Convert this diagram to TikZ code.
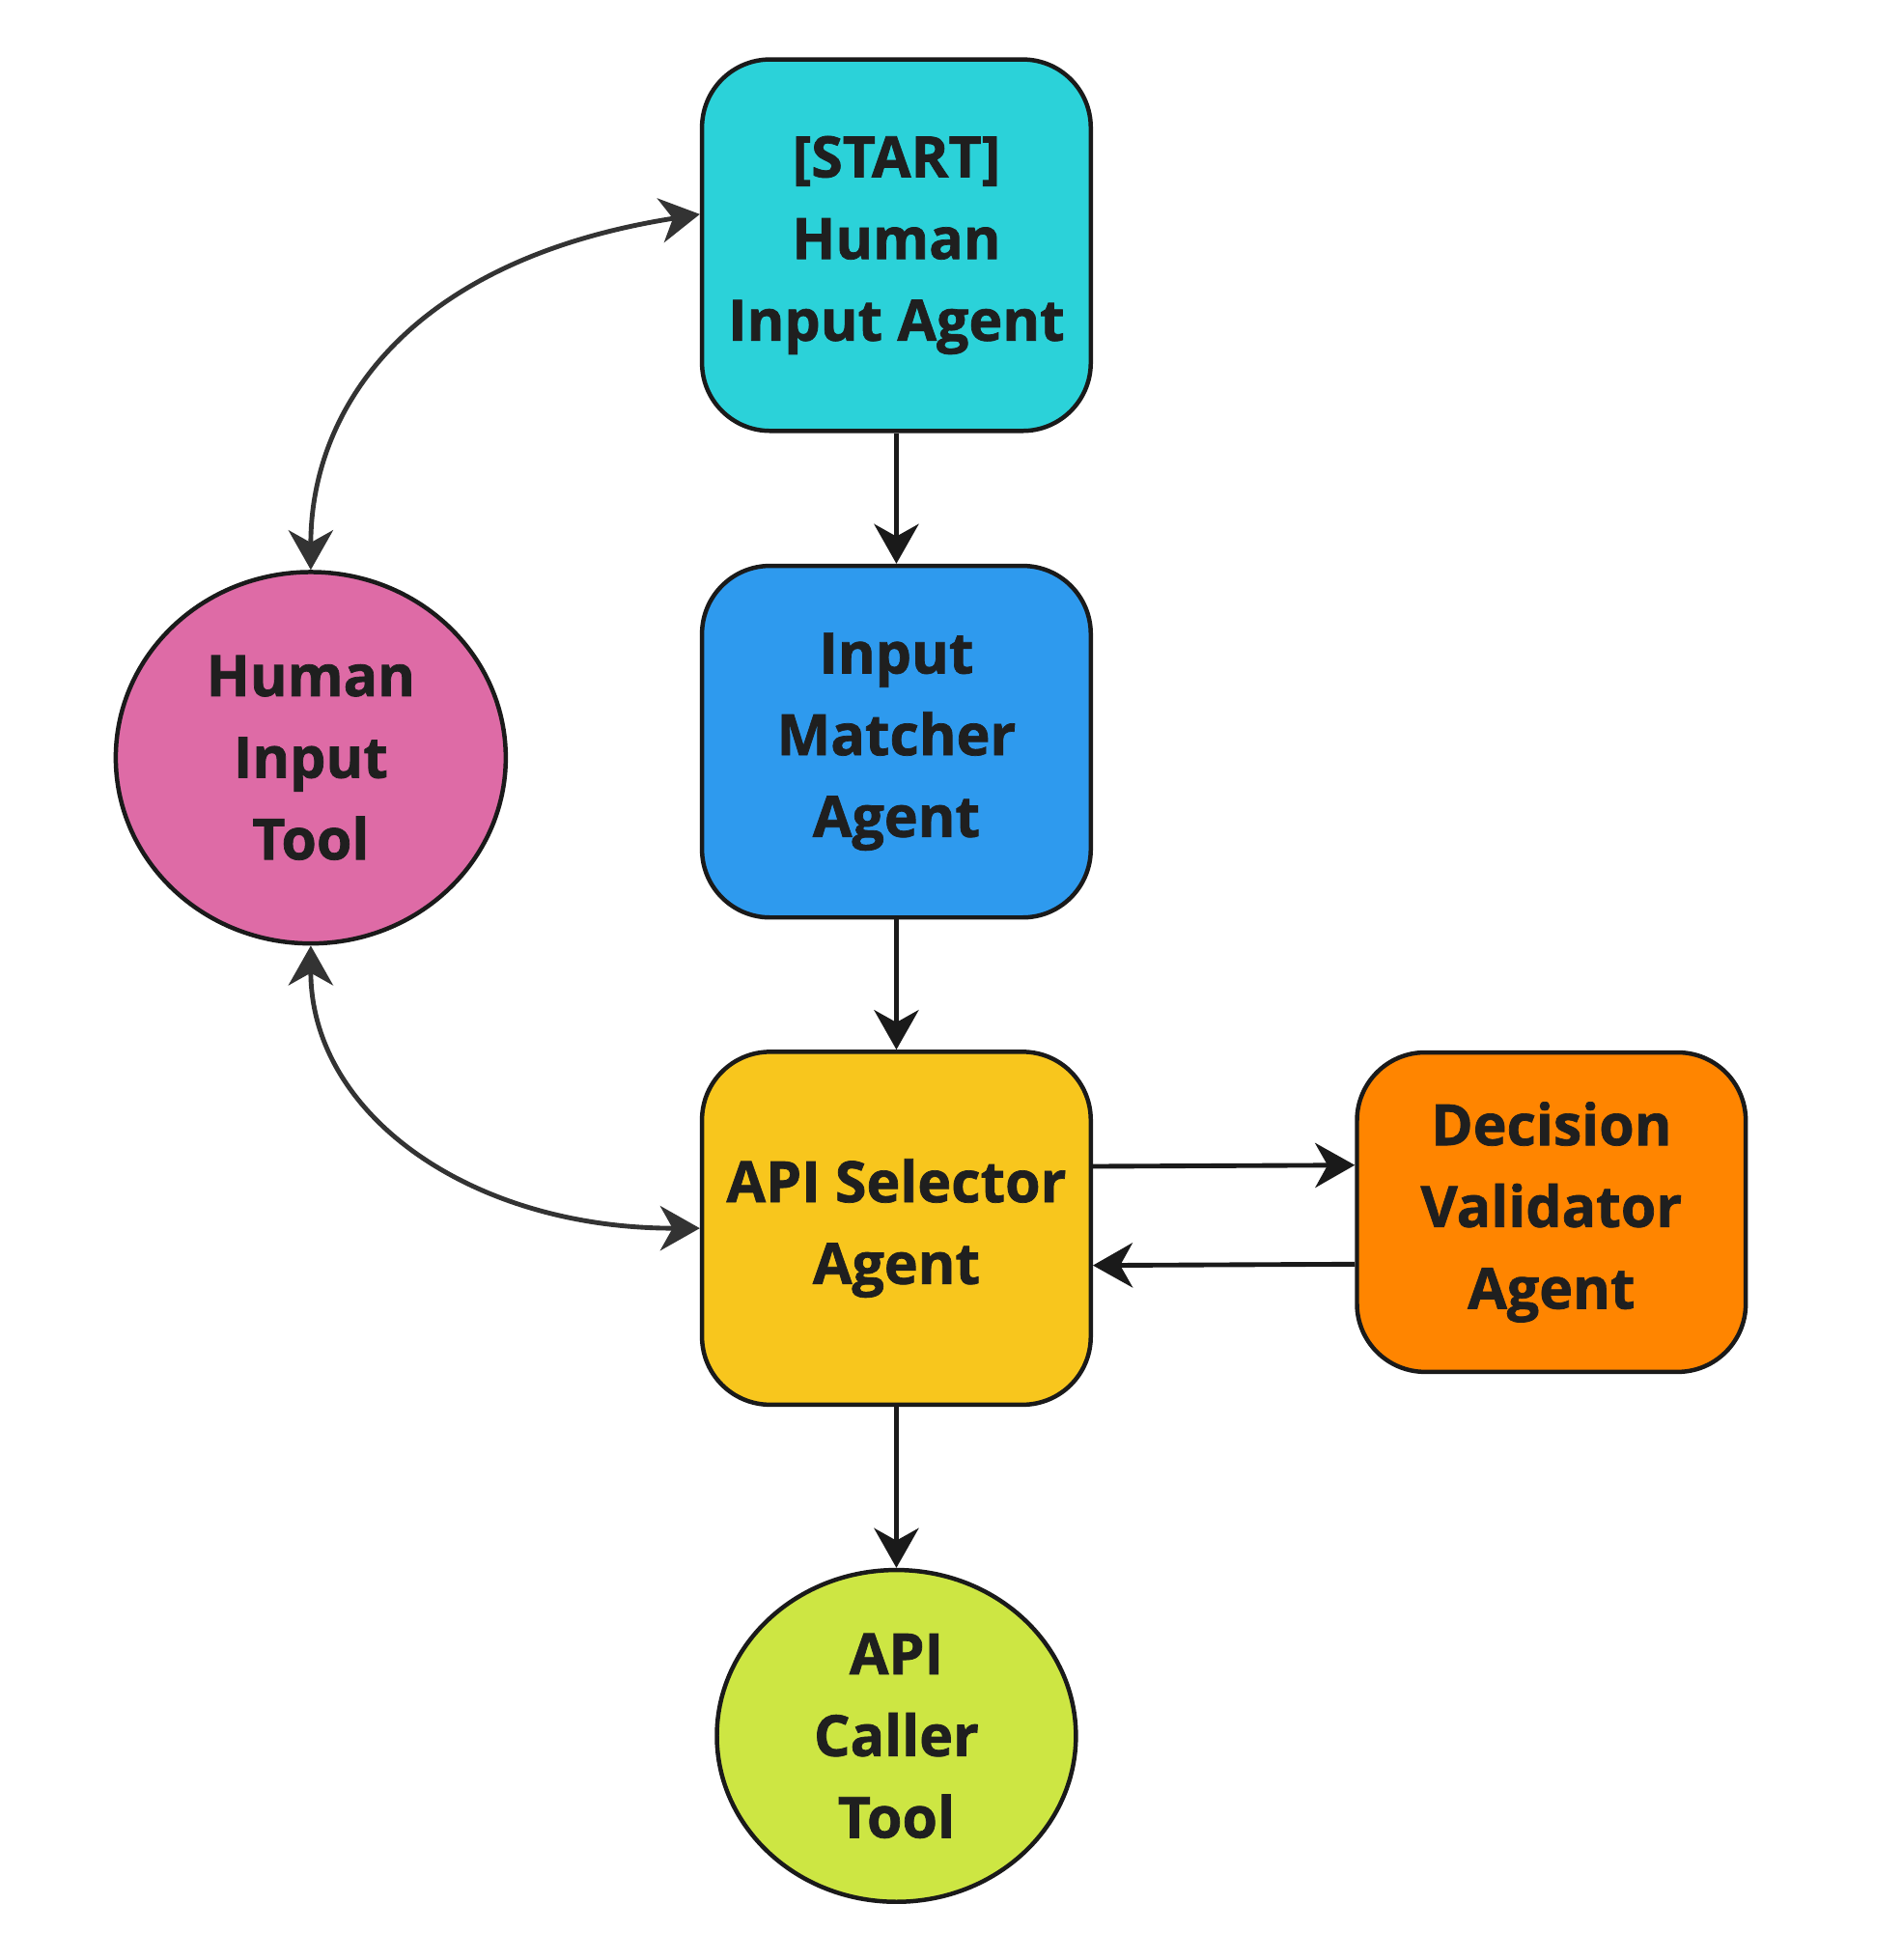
\documentclass[tikz,border=0pt]{standalone}
\usepackage{fontspec}
\setmainfont{Open Sans}[BoldFeatures={FakeBold=1.2}]
\usetikzlibrary{arrows.meta,shapes.geometric}
\definecolor{cstart}{HTML}{2BD2D9}
\definecolor{cmatch}{HTML}{2E9AEE}
\definecolor{csel}{HTML}{F8C61D}
\definecolor{cdec}{HTML}{FF8500}
\definecolor{chum}{HTML}{DE6BA6}
\definecolor{ccall}{HTML}{CDE643}
\definecolor{ctext}{HTML}{1F1F1F}
\definecolor{cline}{HTML}{1A1A1A}
\definecolor{ccurve}{HTML}{333333}
\begin{document}
\begin{tikzpicture}[x=1pt,y=-1pt,
  lbl/.style={align=center,text=ctext,font=\bfseries\fontsize{46}{66}\selectfont,inner sep=0pt},
  agent/.style={lbl,draw=cline,line width=3.5pt,rounded corners=55pt,minimum width=314pt},
  tool/.style={lbl,draw=cline,line width=3.5pt,ellipse},
  arr/.style={draw=cline,line width=3.8pt,-{Stealth[length=32pt,width=36pt,inset=10pt]}},
  carr/.style={draw=ccurve,line width=3.8pt,{Stealth[length=32pt,width=36pt,inset=10pt]}-{Stealth[length=32pt,width=36pt,inset=10pt]}}
]
\useasboundingbox (0,0) rectangle (1536,1583);
\fill[white] (0,0) rectangle (1536,1583);

\node[agent,fill=cstart,minimum height=300pt] (start) at (724,198) {[START]\\Human\\Input Agent};
\node[agent,fill=cmatch,minimum height=284pt] (match) at (724,599) {Input\\Matcher\\Agent};
\node[agent,fill=csel,minimum height=285pt] (sel) at (724,992) {API Selector\\Agent};
\node[agent,fill=cdec,minimum height=258pt] (dec) at (1253,979) {Decision\\Validator\\Agent};
\node[tool,fill=chum,minimum width=315pt,minimum height=300pt] (hum) at (251,612) {Human\\Input\\Tool};
\node[tool,fill=ccall,minimum width=290pt,minimum height=268pt] (call) at (724,1402) {API\\Caller\\Tool};

\draw[arr] (start.south) -- (match.north);
\draw[arr] (match.south) -- (sel.north);
\draw[arr] (sel.south) -- (call.north);
\draw[arr] ([yshift=50pt]sel.east) -- ([yshift=38pt]dec.west);
\draw[arr] ([yshift=-42pt]dec.west) -- ([yshift=-30pt]sel.east);

\draw[carr] ([yshift=25pt]start.west) .. controls (330,210) and (251,330) .. (hum.north);
\draw[carr] (hum.south) .. controls (251,900) and (380,992) .. (sel.west);
\end{tikzpicture}
\end{document}
